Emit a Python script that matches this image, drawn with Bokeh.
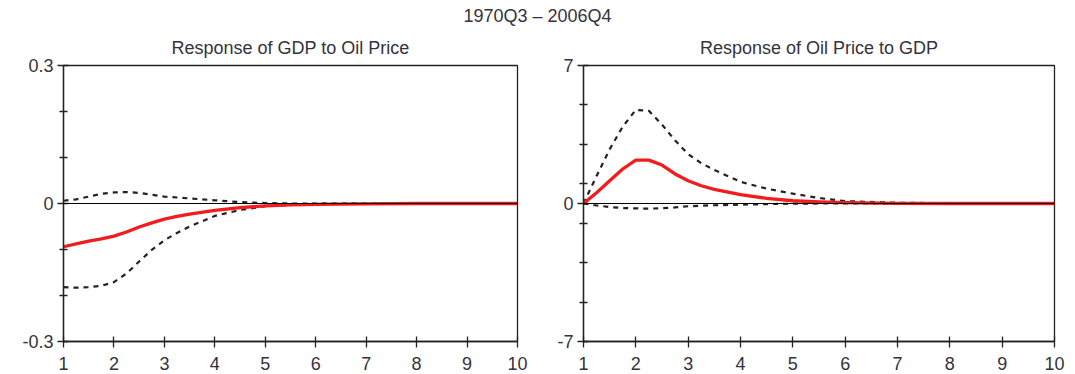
from bokeh.plotting import figure
from bokeh.models import Range1d, FixedTicker, Span, Div
from bokeh.layouts import column, row
from bokeh.embed import file_html
from bokeh.resources import INLINE

# ---- data ----
main_title = "1970Q3 – 2006Q4"
horizon = [1, 1.25, 1.5, 1.75, 2, 2.25, 2.5, 2.75, 3, 3.25, 3.5, 4, 4.5, 5, 5.5, 6, 7, 8, 9, 10]

gdp_title = "Response of GDP to Oil Price"
gdp_resp = [-0.094, -0.088, -0.082, -0.077, -0.071, -0.062, -0.051, -0.042, -0.034,
            -0.028, -0.023, -0.015, -0.009, -0.005, -0.003, -0.002, -0.001, 0, 0, 0]
gdp_upper = [0.006, 0.009, 0.015, 0.021, 0.024, 0.025, 0.023, 0.019, 0.015,
             0.013, 0.011, 0.007, 0.003, 0.001, 0.0, 0, 0, 0, 0, 0]
gdp_lower = [-0.182, -0.183, -0.182, -0.179, -0.171, -0.152, -0.126, -0.101, -0.080,
             -0.064, -0.050, -0.027, -0.014, -0.006, -0.003, -0.001, 0, 0, 0, 0]
gdp_ticks = [-0.3, 0, 0.3]
gdp_minor = [-0.2, -0.1, 0.1, 0.2]
gdp_labels = {-0.3: "-0.3", 0: "0", 0.3: "0.3"}

oil_title = "Response of Oil Price to GDP"
oil_resp = [0, 0.55, 1.15, 1.75, 2.2, 2.2, 1.95, 1.5, 1.15,
            0.9, 0.72, 0.45, 0.26, 0.14, 0.08, 0.04, 0.01, 0, 0, 0]
oil_upper = [0, 1.4, 2.75, 3.9, 4.75, 4.7, 4.0, 3.2, 2.5,
             2.05, 1.7, 1.1, 0.75, 0.5, 0.28, 0.12, 0.04, 0.01, 0, 0]
oil_lower = [0, -0.1, -0.18, -0.23, -0.25, -0.26, -0.24, -0.2, -0.14,
             -0.11, -0.09, -0.06, -0.03, -0.01, 0, 0, 0, 0, 0, 0]
oil_ticks = [-7, 0, 7]
oil_minor = [-5, -3, -1, 1, 3, 5]
oil_labels = {-7: "-7", 0: "0", 7: "7"}

x_ticks = [1, 2, 3, 4, 5, 6, 7, 8, 9, 10]

FONT = "Liberation Sans"
TXT = "#33333d"


def panel(title, resp, upper, lower, yr, ticks, minor, labels, w, bl, br):
    p = figure(width=w, height=346, output_backend="svg", toolbar_location=None,
               x_range=Range1d(1, 10), y_range=Range1d(-yr, yr),
               min_border_left=bl, min_border_right=br, min_border_top=36,
               min_border_bottom=33, title=title)
    p.title.align = "center"
    p.title.text_font = FONT
    p.title.text_font_size = "18px"
    p.title.text_font_style = "normal"
    p.title.text_color = TXT
    p.title.standoff = 15
    p.grid.visible = False
    p.outline_line_color = "#222"
    p.outline_line_width = 1.3
    p.background_fill_color = "white"
    p.border_fill_color = "white"

    p.xaxis.ticker = FixedTicker(ticks=x_ticks)
    p.yaxis.ticker = FixedTicker(ticks=ticks, minor_ticks=minor)
    p.yaxis.major_label_overrides = labels
    for ax in (p.xaxis, p.yaxis):
        ax.axis_line_color = "#222"
        ax.axis_line_width = 1.3
        ax.major_tick_line_color = "#222"
        ax.major_tick_line_width = 1.3
        ax.minor_tick_line_color = "#222"
        ax.minor_tick_line_width = 1.3
        ax.major_tick_in = 5
        ax.major_tick_out = 6
        ax.minor_tick_in = 4
        ax.minor_tick_out = 4
        ax.major_label_text_font = FONT
        ax.major_label_text_font_size = "18px"
        ax.major_label_text_color = TXT
    p.yaxis.major_label_standoff = 4
    p.xaxis.major_label_standoff = 9

    p.add_layout(Span(location=0, dimension="width", line_color="black", line_width=1))
    p.line(horizon, upper, line_color="#222", line_width=2.2, line_dash="5 5")
    p.line(horizon, lower, line_color="#222", line_width=2.2, line_dash="5 5")
    p.line(horizon, resp, line_color="#f21c1c", line_width=3.3, line_join="round")
    return p


p1 = panel(gdp_title, gdp_resp, gdp_upper, gdp_lower, 0.3, gdp_ticks, gdp_minor,
           gdp_labels, 540, 63, 23)
p2 = panel(oil_title, oil_resp, oil_upper, oil_lower, 7, oil_ticks, oil_minor,
           oil_labels, 535, 43, 21)

head = Div(text=main_title, width=1075, height=28, margin=0,
           styles={"text-align": "center", "font-family": FONT, "font-size": "18px",
                   "color": TXT, "width": "1075px", "padding-top": "4px"})

layout = column(head, row(p1, p2, spacing=0), spacing=0)
open("out.html", "w").write(file_html(layout, INLINE))
